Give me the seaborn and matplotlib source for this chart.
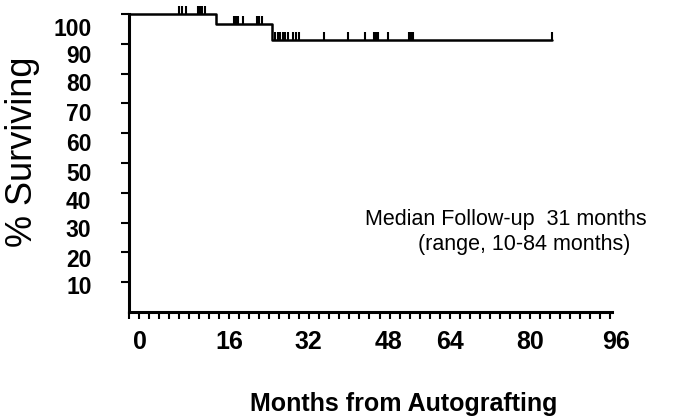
import numpy as np
import pandas as pd
import matplotlib
matplotlib.use("Agg")
import matplotlib.pyplot as plt
import matplotlib.transforms as mtransforms
import seaborn as sns

# ---- data ----
step_months = [0.0, 17.4, 28.5, 84.4]
step_surv = [100.0, 96.6, 91.2, 91.2]
censor_months = [10.0, 10.6, 11.4, 13.8, 14.2, 14.6, 15.2,
                 21.0, 21.4, 21.7, 22.8, 25.6, 25.9, 26.5,
                 29.1, 29.7, 30.1, 30.7, 31.2, 31.7, 32.7, 33.3, 33.9,
                 38.9, 43.7, 47.1, 48.9, 49.3, 49.7, 51.7, 55.9, 56.3, 56.7, 84.4]
x_ticks = [0, 16, 32, 48, 64, 80, 96]
y_ticks = [10, 20, 30, 40, 50, 60, 70, 80, 90, 100]

sns.set_style("ticks")
plt.rcParams["font.family"] = ["Liberation Sans", "DejaVu Sans"]
plt.rcParams["text.color"] = "black"
plt.rcParams["xtick.color"] = "black"
plt.rcParams["ytick.color"] = "black"
plt.rcParams["axes.edgecolor"] = "black"

fig = plt.figure(figsize=(6.8, 4.2), dpi=100)
ax = fig.add_axes([129 / 680, 108 / 420, 483 / 680, 298 / 420])

curve = pd.DataFrame({"month": step_months, "surv": step_surv})
sns.lineplot(data=curve, x="month", y="surv", drawstyle="steps-post",
             color="black", linewidth=1.8, estimator=None, ax=ax, clip_on=False)

# censor marks sit on the curve at the survival level for that time
cm = np.array(censor_months)
idx = np.searchsorted(np.array(step_months), cm, side="right") - 1
cens = pd.DataFrame({"month": cm, "surv": np.array(step_surv)[idx]})
tick_marker = [(0, 0), (0, 1)]
sns.scatterplot(data=cens, x="month", y="surv", marker=tick_marker, s=120,
                color="black", linewidth=1.5, edgecolor="black", ax=ax,
                clip_on=False, legend=False)

ax.set_xlim(0, 96.4)
ax.set_ylim(0, 100)

ax.set_xticks(x_ticks)
ax.set_xticks(np.arange(0, 97, 2), minor=True)
ax.set_xticklabels([str(v) for v in x_ticks], fontsize=18, fontweight="bold")
ax.set_yticks(y_ticks)
ax.set_yticklabels([str(v) for v in y_ticks], fontsize=16.5, fontweight="bold")

ax.tick_params(axis="x", which="both", direction="out", length=5, width=1.5, pad=8)
ax.tick_params(axis="y", which="major", direction="out", length=6, width=1.5, pad=21)

# small per-label offsets (pixels) as in the scanned original
x_label_shift = [11, 20, 19, 19, 0, 0, 6]
y_label_shift = [3, 6, 5, 7, 9, 9, 9, 8, 10, 13]
for lab, dx in zip(ax.get_xticklabels(), x_label_shift):
    lab.set_transform(lab.get_transform() +
                      mtransforms.ScaledTranslation(dx / 100, 0, fig.dpi_scale_trans))
for lab, dy in zip(ax.get_yticklabels(), y_label_shift):
    lab.set_transform(lab.get_transform() +
                      mtransforms.ScaledTranslation(0, -dy / 100, fig.dpi_scale_trans))

sns.despine(ax=ax)
for s in ["left", "bottom"]:
    ax.spines[s].set_linewidth(2.2)

ax.set_xlabel("")
ax.set_ylabel("")
fig.text(23 / 680, 1 - 152 / 420, "% Surviving", rotation=90, fontsize=26,
         ha="center", va="center")
fig.text(404 / 680, 1 - 404 / 420, "Months from Autografting", fontsize=18,
         fontweight="bold", ha="center", va="center")

fig.text(365 / 680, 1 - 225 / 420, "Median Follow-up  31 months", fontsize=15.5,
         ha="left", va="baseline")
fig.text(524 / 680, 1 - 250 / 420, "(range, 10-84 months)", fontsize=15.5,
         ha="center", va="baseline")

fig.savefig("out.png", dpi=100)
